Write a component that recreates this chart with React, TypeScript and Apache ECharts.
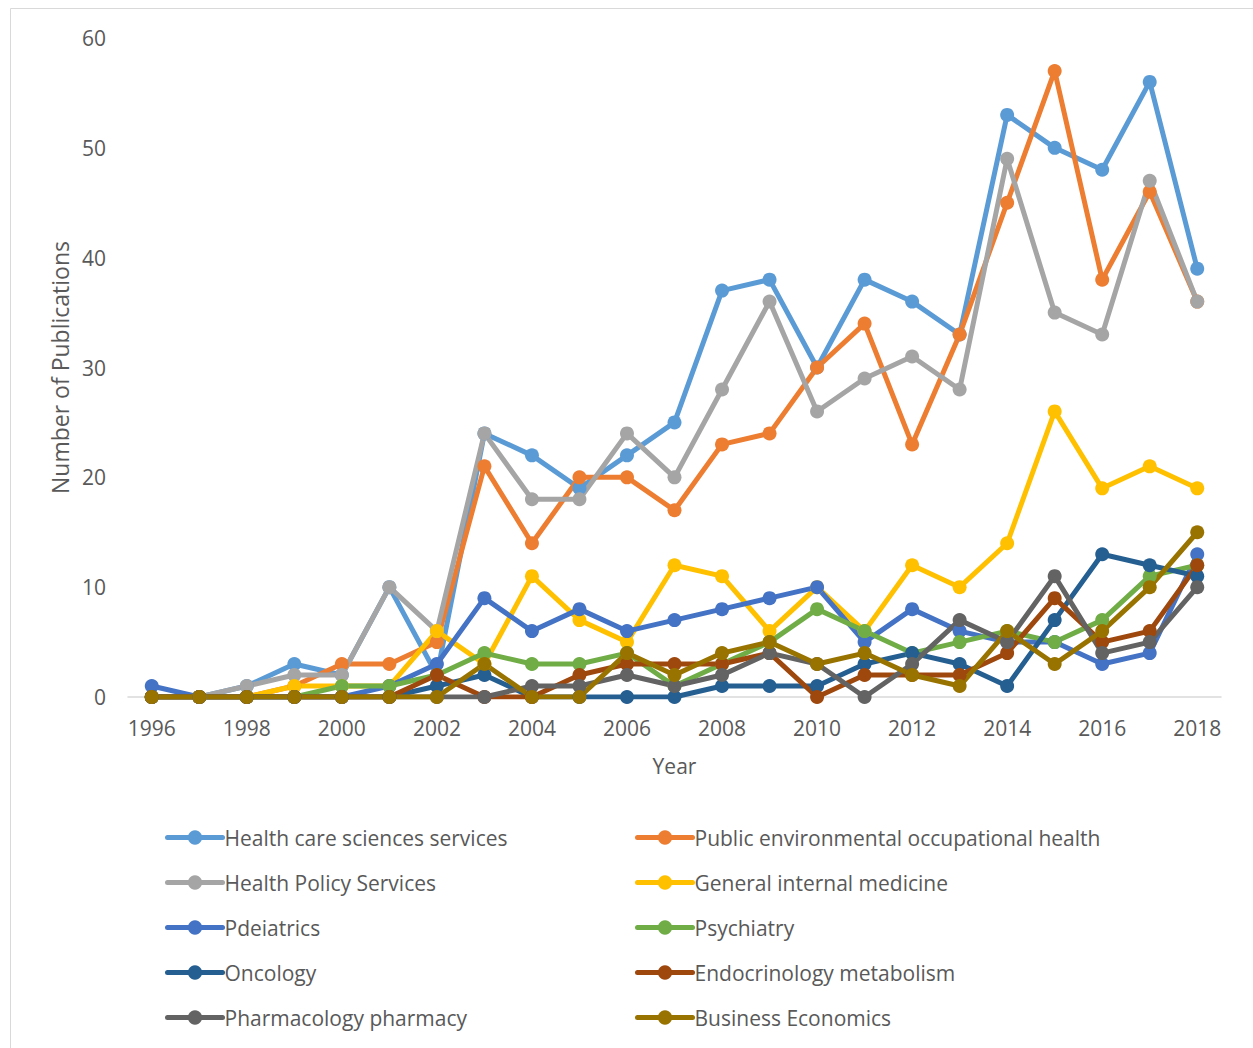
import React, { useEffect, useRef } from "react";
import * as echarts from "echarts";

const years = ["1996","1997","1998","1999","2000","2001","2002","2003","2004","2005","2006","2007","2008","2009","2010","2011","2012","2013","2014","2015","2016","2017","2018"];

const healthCare = [0,0,1,3,2,10,2,24,22,19,22,25,37,38,30,38,36,33,53,50,48,56,39];
const publicEnv = [0,0,0,1,3,3,5,21,14,20,20,17,23,24,30,34,23,33,45,57,38,46,36];
const healthPolicy = [0,0,1,2,2,10,6,24,18,18,24,20,28,36,26,29,31,28,49,35,33,47,36];
const generalInternal = [0,0,0,1,1,1,6,3,11,7,5,12,11,6,10,6,12,10,14,26,19,21,19];
const pdeiatrics = [1,0,0,0,0,1,3,9,6,8,6,7,8,9,10,5,8,6,5,5,3,4,13];
const psychiatry = [0,0,0,0,1,1,2,4,3,3,4,1,3,5,8,6,4,5,6,5,7,11,12];
const oncology = [0,0,0,0,0,0,1,2,0,0,0,0,1,1,1,3,4,3,1,7,13,12,11];
const endocrinology = [0,0,0,0,0,0,2,0,0,2,3,3,3,4,0,2,2,2,4,9,5,6,12];
const pharmacology = [0,0,0,0,0,0,0,0,1,1,2,1,2,4,3,0,3,7,5,11,4,5,10];
const businessEcon = [0,0,0,0,0,0,0,3,0,0,4,2,4,5,3,4,2,1,6,3,6,10,15];

const seriesNames = [
  "Health care sciences services",
  "Public environmental occupational health",
  "Health Policy Services",
  "General internal medicine",
  "Pdeiatrics",
  "Psychiatry",
  "Oncology",
  "Endocrinology metabolism",
  "Pharmacology pharmacy",
  "Business Economics",
];
const seriesData = [healthCare, publicEnv, healthPolicy, generalInternal, pdeiatrics, psychiatry, oncology, endocrinology, pharmacology, businessEcon];
const seriesColors = ["#5B9BD5","#ED7D31","#A5A5A5","#FFC000","#4472C4","#70AD47","#255E91","#9E480E","#636363","#997300"];

const FONT = "'Open Sans', sans-serif";
const TXT = "#595959";

export default function App() {
  const ref = useRef<HTMLDivElement>(null);
  useEffect(() => {
    if (!ref.current) return;
    const chart = echarts.init(ref.current, undefined, { renderer: "svg" });
    const legendCommon = {
      orient: "vertical" as const,
      top: 827,
      padding: 0,
      itemWidth: 55,
      itemHeight: 18,
      itemGap: 24,
      lineStyle: { width: 5 },
      textStyle: { color: TXT, fontSize: 21, fontFamily: FONT, lineHeight: 21, padding: [0, 0, 0, -3] },
    };
    chart.setOption({
      animation: false,
      backgroundColor: "#ffffff",
      textStyle: { fontFamily: FONT },
      graphic: [
        {
          type: "rect",
          shape: { x: 10.5, y: 8.5, width: 1260, height: 1060 },
          style: { fill: "none", stroke: "#d9d9d9", lineWidth: 1 },
          silent: true,
        },
      ],
      grid: { left: 128, right: 32, top: 38, bottom: 351, containLabel: false },
      xAxis: {
        type: "category",
        data: years,
        boundaryGap: true,
        name: "Year",
        nameLocation: "middle",
        nameGap: 58,
        nameTextStyle: { color: TXT, fontSize: 21, fontFamily: FONT },
        axisLine: { lineStyle: { color: "#d9d9d9", width: 1.5 } },
        axisTick: { show: false },
        axisLabel: { interval: 1, color: TXT, fontSize: 21, fontFamily: FONT, margin: 20 },
        splitLine: { show: false },
      },
      yAxis: {
        type: "value",
        min: 0,
        max: 60,
        interval: 10,
        name: "Number of Publications",
        nameLocation: "middle",
        nameGap: 57,
        nameTextStyle: { color: TXT, fontSize: 23, fontFamily: FONT },
        axisLine: { show: false },
        axisTick: { show: false },
        axisLabel: { color: TXT, fontSize: 21, fontFamily: FONT, margin: 22 },
        splitLine: { show: false },
      },
      legend: [
        { ...legendCommon, left: 165, data: seriesNames.filter((_, i) => i % 2 === 0) },
        { ...legendCommon, left: 635, data: seriesNames.filter((_, i) => i % 2 === 1) },
      ],
      series: seriesNames.map((name, i) => ({
        name,
        type: "line",
        data: seriesData[i],
        symbol: "circle",
        symbolSize: 14,
        showSymbol: true,
        lineStyle: { color: seriesColors[i], width: 5, cap: "round", join: "round" },
        itemStyle: { color: seriesColors[i] },
        emphasis: { disabled: true },
      })),
    });
    return () => chart.dispose();
  }, []);
  return (
    <div
      ref={ref}
      style={{ position: "fixed", left: 0, top: 0, width: 1253, height: 1048 }}
    />
  );
}
